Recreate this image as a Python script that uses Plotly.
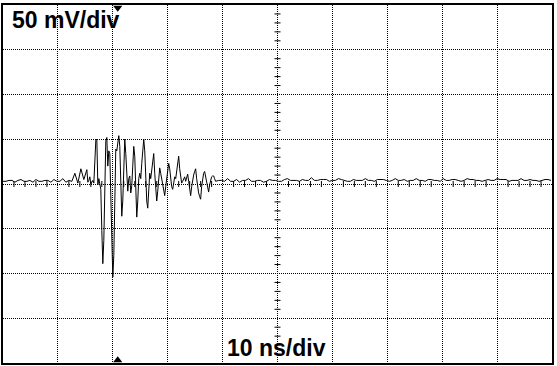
import numpy as np
import plotly.graph_objects as go

# time base: 10 ns/div, 10 divisions; vertical: 50 mV/div, 8 divisions
dt = 100 / 550  # ns per sample

# quiet part before the burst (every 3rd sample, indices 0..84), mV
quiet1_mv = [3, 3, 4, 4, 2, 4, 5, 3, 3, 4, 2, 5, 3, 3, 4, 4, 2, 5, 3, 3,
             6, 2, 4, 3, 12, 1, 17, 5, 16]
# burst (every sample, indices 85..213), mV
burst_mv = [2, 4, 8, 0, 3, 4, 1, 20, 49, 50, -1, 6, 1, -6, -52, -89, -63, 9, 48, 52,
            20, 37, 34, -13, -74, -104, -80, 14, 39, 37, 46, 54, 42, -8, -36, -19, 26, 50, 34, 6,
            -8, 6, 9, -10, -2, 20, 42, 31, -8, -37, -19, 6, 12, 6, 23, 39, 50, 37, 3, -19,
            -27, -6, 12, 6, 17, 22, 34, 12, -2, -19, -8, 8, 18, 12, 6, 1, -8, -13, -3, 8,
            17, 23, 17, 6, -3, -6, 1, 8, 6, 14, 26, 31, 17, 6, 1, 3, 6, 8, 3, 8,
            11, 3, -6, -13, -3, 6, 10, 14, 17, 6, -3, -10, -14, -17, -3, 8, 12, 14, 8, 1,
            -3, -9, -1, 6, 8, 9, 9, 6, 3]
# quiet part after the burst (every 3rd sample, indices 216..549), mV
quiet2_mv = [4, 4, 3, 6, 3, 3, 5, 2, 4, 4, 6, 3, 3, 4, 4, 2, 3, 5, 4, 4,
             3, 3, 5, 6, 4, 4, 4, 3, 5, 4, 4, 7, 4, 4, 5, 5, 5, 3, 4, 4,
             6, 5, 4, 3, 3, 5, 4, 4, 4, 6, 4, 4, 3, 5, 5, 5, 4, 3, 4, 6,
             4, 4, 5, 3, 4, 4, 6, 4, 4, 3, 5, 5, 4, 4, 3, 6, 4, 4, 5, 5,
             4, 3, 4, 6, 5, 5, 4, 4, 3, 4, 5, 4, 4, 6, 5, 5, 5, 3, 4, 4,
             4, 6, 4, 4, 5, 4, 4, 3, 4, 5, 5, 4]

idx = list(range(0, 85, 3)) + list(range(85, 214)) + list(range(216, 550, 3))
t_ns = [i * dt for i in idx]
v_mv = quiet1_mv + burst_mv + quiet2_mv

trigger_ns = 20.9
volt_label = "50 mV/div"
time_label = "10 ns/div"

fig = go.Figure()
fig.add_trace(go.Scatter(x=t_ns, y=v_mv, mode="lines",
                         line=dict(color="black", width=1), hoverinfo="skip"))
fig.add_trace(go.Scatter(x=[trigger_ns], y=[197.0], mode="markers",
                         marker=dict(symbol="triangle-down", size=8, color="black"),
                         cliponaxis=False))
fig.add_trace(go.Scatter(x=[trigger_ns], y=[-197.0], mode="markers",
                         marker=dict(symbol="triangle-up", size=8, color="black"),
                         cliponaxis=False))

shapes = []
for k in range(1, 50):
    tx = k * 2
    if tx % 10 == 0:
        continue
    shapes.append(dict(type="line", xref="x", yref="y", x0=tx, x1=tx,
                       ysizemode="pixel", yanchor=0, y0=-3, y1=3,
                       line=dict(color="black", width=1)))
for k in range(-19, 20):
    vy = k * 10
    if vy % 50 == 0:
        continue
    shapes.append(dict(type="line", xref="x", yref="y", y0=vy, y1=vy,
                       xsizemode="pixel", xanchor=50, x0=-3, x1=3,
                       line=dict(color="black", width=1)))

fig.update_layout(
    width=557, height=366,
    margin=dict(l=3, r=4, t=3, b=3),
    paper_bgcolor="white", plot_bgcolor="white",
    showlegend=False,
    shapes=shapes,
    xaxis=dict(range=[0, 100], dtick=10, tick0=0, showticklabels=False, ticks="",
               showgrid=True, gridcolor="black", gridwidth=1, griddash="1px,1px",
               zeroline=False, showline=True, linecolor="black", linewidth=2, mirror=True,
               fixedrange=True),
    yaxis=dict(range=[-200, 200], dtick=50, tick0=0, showticklabels=False, ticks="",
               showgrid=True, gridcolor="black", gridwidth=1, griddash="1px,1px",
               zeroline=False, showline=True, linecolor="black", linewidth=2, mirror=True,
               fixedrange=True),
    annotations=[
        dict(text=volt_label, xref="paper", yref="paper", x=0.012, y=1.0,
             xanchor="left", yanchor="top", showarrow=False,
             font=dict(family="Liberation Sans", size=23, color="black", weight="bold")),
        dict(text=time_label, xref="paper", yref="paper", x=0.405, y=0.0,
             xanchor="left", yanchor="bottom", showarrow=False,
             font=dict(family="Liberation Sans", size=23, color="black", weight="bold")),
    ],
)

fig.write_html("out.html", config={"displayModeBar": False},
               post_script="document.body.style.margin='0';document.body.style.overflow='hidden';")
